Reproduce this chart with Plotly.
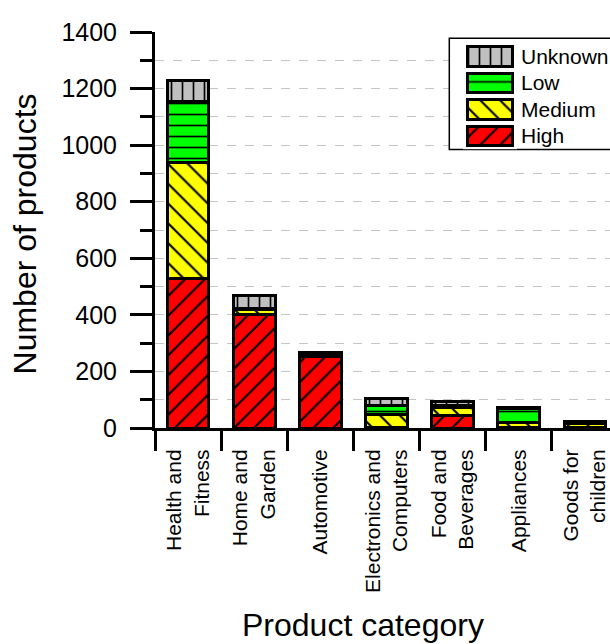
import plotly.graph_objects as go

# Product categories (two-line labels)
categories = [
    "Health and<br>Fitness",
    "Home and<br>Garden",
    "Automotive",
    "Electronics and<br>Computers",
    "Food and<br>Beverages",
    "Appliances",
    "Goods for<br>children",
]

# Number of products per risk level
high = [530, 403, 252, 3, 45, 2, 3]
medium = [410, 17, 6, 45, 28, 18, 14]
low = [215, 3, 4, 30, 6, 48, 3]
unknown = [75, 45, 6, 27, 13, 4, 2]

# Risk levels, bottom of the stack first
levels = ["High", "Medium", "Low", "Unknown"]

styles = {
    "High": dict(color="#FF0000", shape="/", size=14),
    "Medium": dict(color="#FFFF00", shape="\\", size=14),
    "Low": dict(color="#00FF00", shape="-", size=11),
    "Unknown": dict(color="#C0C0C0", shape="|", size=11),
}
values = {"High": high, "Medium": medium, "Low": low, "Unknown": unknown}

FONT = "Liberation Sans, Arial, sans-serif"
KEY_LEN = 1  # length of a key swatch on the key axis


def marker_for(level):
    st = styles[level]
    return dict(
        color=st["color"],
        line=dict(color="black", width=3),
        pattern=dict(shape=st["shape"], bgcolor=st["color"], fgcolor="black",
                     size=st["size"], solidity=0.15, fillmode="replace"),
    )


fig = go.Figure()

# Stacked bars
for level in levels:
    fig.add_trace(go.Bar(
        name=level, x=categories, y=values[level], width=0.63,
        marker=marker_for(level), showlegend=False,
        xaxis="x", yaxis="y",
    ))

# Key: one large patterned swatch per level, labelled by the key axis
for level in levels:
    fig.add_trace(go.Bar(
        name=level, y=[level], x=[KEY_LEN], orientation="h", width=0.745,
        marker=marker_for(level), showlegend=False, hoverinfo="skip",
        xaxis="x2", yaxis="y2",
    ))

fig.update_layout(
    width=610,
    height=644,
    barmode="stack",
    plot_bgcolor="white",
    paper_bgcolor="white",
    margin=dict(l=155, r=0, t=32, b=216, autoexpand=False),
    font=dict(family=FONT, color="black"),
    showlegend=False,
    xaxis=dict(
        type="category",
        range=[-0.5, 6.38],
        showline=True, linecolor="black", linewidth=3,
        ticks="outside", tickson="boundaries", ticklen=20, tickwidth=3,
        tickcolor="black",
        tickangle=-90,
        tickfont=dict(size=21, family=FONT),
        ticklabelstandoff=10,
        showgrid=False,
        zeroline=False,
    ),
    yaxis=dict(
        range=[0, 1400],
        dtick=200, tick0=0,
        showline=True, linecolor="black", linewidth=3,
        ticks="outside", ticklen=22, tickwidth=3, tickcolor="black",
        tickfont=dict(size=25, family=FONT),
        ticklabelstandoff=8,
        showgrid=True, gridcolor="#C4C4C4", gridwidth=1, griddash="dash",
        zeroline=False,
        minor=dict(dtick=100, ticks="outside", ticklen=12, tickwidth=3,
                   tickcolor="black", showgrid=True, gridcolor="#C4C4C4",
                   gridwidth=1, griddash="dash"),
    ),
    xaxis2=dict(
        domain=[0.6769, 0.7956], anchor="y2", range=[-0.1, 1.1],
        visible=False, fixedrange=True,
    ),
    yaxis2=dict(
        domain=[0.7041, 0.9713], anchor="x2", side="right",
        type="category", categoryorder="array", categoryarray=levels,
        range=[-0.5, 3.5],
        showgrid=False, showline=False, zeroline=False, ticks="",
        tickfont=dict(size=21, family=FONT),
        ticklabelstandoff=3, fixedrange=True,
    ),
    shapes=[
        # key frame, covering the gridlines behind it
        dict(type="rect", xref="x", yref="y", x0=3.95, x1=7.0,
             y0=985, y1=1378, layer="between",
             line=dict(color="black", width=1.5), fillcolor="white"),
    ],
    annotations=[
        dict(text="Product category", xref="paper", yref="paper",
             x=0.457, y=-0.4985, xanchor="center", yanchor="middle",
             showarrow=False, font=dict(size=32, family=FONT)),
        dict(text="Number of products", xref="paper", yref="paper",
             x=-0.2857, y=0.4887, xanchor="center", yanchor="middle",
             textangle=-90, showarrow=False, font=dict(size=32, family=FONT)),
    ],
)

fig.write_html("out.html")
